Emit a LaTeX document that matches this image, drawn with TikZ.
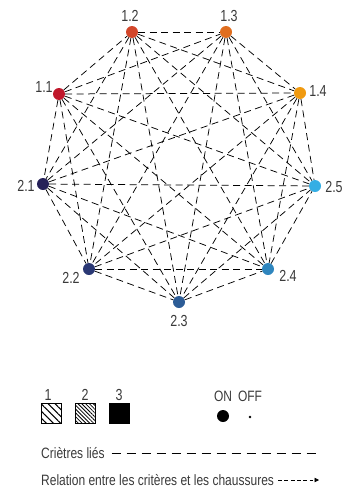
\documentclass[tikz,border=0pt]{standalone}
\usepackage{fontspec}
\setmainfont{Liberation Sans}[FakeStretch=0.78]
\usetikzlibrary{patterns.meta,arrows.meta}
\definecolor{cA}{HTML}{C0172B}
\definecolor{cB}{HTML}{D2462A}
\definecolor{cC}{HTML}{E06E1F}
\definecolor{cD}{HTML}{F09A10}
\definecolor{cE}{HTML}{262158}
\definecolor{cF}{HTML}{2A3874}
\definecolor{cG}{HTML}{2C5C96}
\definecolor{cH}{HTML}{2F86BE}
\definecolor{cI}{HTML}{34AEE4}
\definecolor{txt}{HTML}{3A3A3A}
\tikzset{
  crit/.style={circle,fill=#1,minimum size=12pt,inner sep=0pt},
  lbl/.style={text=txt,font=\fontsize{16}{16}\selectfont,inner sep=0pt},
  leg/.style={text=txt,font=\fontsize{15}{15}\selectfont\addfontfeatures{FakeStretch=0.8},inner sep=0pt},
  link/.style={dash pattern=on 7pt off 4.5pt,line width=0.75pt,black},
  hbox/.style={draw=black,line width=0.9pt,minimum size=20pt,inner sep=0pt}
}
\begin{document}
\begin{tikzpicture}[x=1pt,y=-1pt]
\useasboundingbox (0,0) rectangle (355,490);
% criteria
\node[crit=cA] (n11) at (59,94) {};
\node[crit=cB] (n12) at (132,32) {};
\node[crit=cC] (n13) at (226,32) {};
\node[crit=cD] (n14) at (300,93) {};
\node[crit=cE] (n21) at (43,184) {};
\node[crit=cF] (n22) at (89,269) {};
\node[crit=cG] (n23) at (179,302) {};
\node[crit=cH] (n24) at (268,269) {};
\node[crit=cI] (n25) at (315,186) {};
% labels
\node[lbl] (l11) at (44,87) {1.1};
\node[lbl] (l12) at (130,16) {1.2};
\node[lbl] (l13) at (229,16) {1.3};
\node[lbl] (l14) at (318,91) {1.4};
\node[lbl] (l21) at (26,186) {2.1};
\node[lbl] (l22) at (71,278) {2.2};
\node[lbl] (l23) at (179,321) {2.3};
\node[lbl] (l24) at (288,276) {2.4};
\node[lbl] (l25) at (334,187) {2.5};
% every pair of criteria is linked
\foreach \a/\rest in {n11/{n12,n13,n14,n21,n22,n23,n24,n25},
                      n12/{n13,n14,n21,n22,n23,n24,n25},
                      n13/{n14,n21,n22,n23,n24,n25},
                      n14/{n21,n22,n23,n24,n25},
                      n21/{n22,n23,n24,n25},
                      n22/{n23,n24,n25},
                      n23/{n24,n25},
                      n24/{n25}}{
  \foreach \b in \rest { \draw[link] (\a) -- (\b); }
}
% legend: levels
\node[lbl] (k1) at (48,395) {1};
\node[lbl] (k2) at (85,395) {2};
\node[lbl] (k3) at (119,395) {3};
\node[hbox,pattern={Lines[angle=-45,distance=5pt,line width=1.1pt]}] (b1) at (51.5,413.5) {};
\node[hbox,pattern={Lines[angle=-45,distance=2.7pt,line width=0.8pt]}] (b2) at (85,413.5) {};
\node[hbox,fill=black] (b3) at (119.5,413.5) {};
% legend: on / off
\node[leg] (on) at (223,396) {ON};
\node[leg] (off) at (250,396) {OFF};
\node[circle,fill=black,minimum size=12pt,inner sep=0pt] (d1) at (223,416) {};
\node[circle,fill=black,minimum size=2.6pt,inner sep=0pt] (d2) at (250,417) {};
% legend: line styles
\node[leg,anchor=west] (t1) at (41,453) {Criètres liés};
\coordinate (t1e) at (318,453);
\draw[dash pattern=on 9.5pt off 5.5pt,line width=0.8pt,black] ([xshift=7pt]t1.east) -- (t1e);
\node[leg,anchor=west] (t2) at (41,480) {Relation entre les critères et les chaussures};
\coordinate (t2e) at (319,480);
\draw[dash pattern=on 3.8pt off 2.5pt,line width=0.8pt,black,-{Triangle[length=4.5pt,width=4.5pt]}] ([xshift=4pt]t2.east) -- (t2e);
\end{tikzpicture}
\end{document}
